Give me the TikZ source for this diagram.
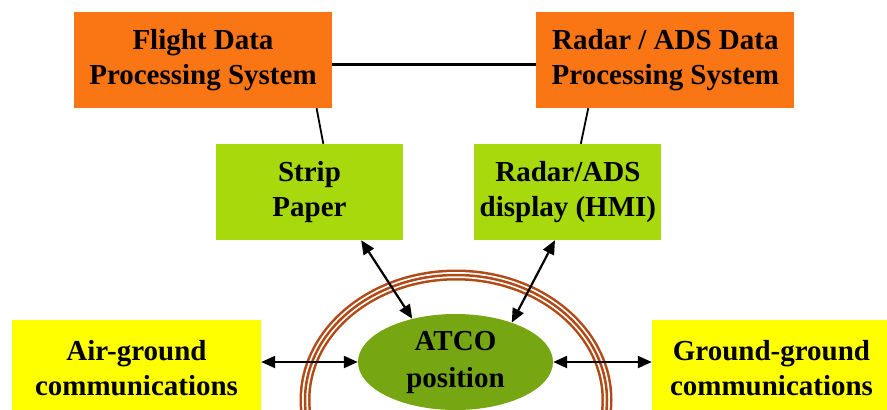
\documentclass[tikz,border=0pt]{standalone}
\usepackage{fontspec}
\setmainfont{Liberation Serif}
\usepackage{xcolor}
\usepackage{tikz}
\usetikzlibrary{positioning,shapes.geometric,arrows.meta}

\definecolor{sysorange}{RGB}{250,118,20}
\definecolor{dispgreen}{RGB}{168,217,13}
\definecolor{atcogreen}{RGB}{118,167,19}
\definecolor{commyellow}{RGB}{255,255,0}
\definecolor{ringbrown}{RGB}{178,74,22}

\tikzset{
  box/.style={rectangle, inner sep=0pt, align=center, text=black,
    font=\fontsize{29}{35}\selectfont\bfseries},
  sysbox/.style={box, fill=sysorange, minimum width=258pt, minimum height=96pt},
  dispbox/.style={box, fill=dispgreen, minimum width=187pt, minimum height=96pt},
  commbox/.style={box, fill=commyellow, minimum height=96pt},
  atcoell/.style={ellipse, fill=atcogreen, inner sep=0pt, align=center, text=black,
    minimum width=195pt, minimum height=96pt,
    font=\fontsize{29}{37}\selectfont\bfseries},
  sysline/.style={black, line width=1.8pt},
  link/.style={black, line width=2.2pt, <->, >={Triangle[length=14pt,width=12pt]}}
}

\begin{document}
\begin{tikzpicture}[x=1pt,y=-1pt]
\useasboundingbox (0,0) rectangle (887,410);

% rings round the controller
\foreach \w/\c in {11/ringbrown,6/white,2.5/ringbrown} {
\draw[\c, line width=\w pt] (456,400) ellipse [x radius=151, y radius=125];
}

\node(fdps)  [sysbox] at (203,60)                 {Flight Data\\Processing System};
\node(rdps)  [sysbox, right=204pt of fdps]        {Radar / ADS Data\\Processing System};
\node(strip) [dispbox] at (309.5,192)             {Strip\\Paper};
\node(hmi)   [dispbox, right=71pt of strip]       {Radar/ADS\\display (HMI)};
\node(atco)  [atcoell] at (455.5,362)             {ATCO\\position};
\node(airg)  [commbox, minimum width=249pt] at (136.5,368) {Air-ground\\communications};
\node(grg)   [commbox, minimum width=239pt] at (771.5,368) {Ground-ground\\communications};

\draw[sysline, line width=3pt] ([yshift=-4pt]fdps.east) -- ([yshift=-4pt]rdps.west);
\draw[sysline] (fdps.-23) -- (strip.74);
\draw[sysline] (rdps.-148) -- (hmi.75);

\draw[link] (strip.-43) -- (atco.135);
\draw[link] (hmi.-105) -- (atco.35);
\draw[link] (airg.east |- atco.west) -- (atco.west);
\draw[link] (atco.east) -- (grg.west |- atco.east);
\end{tikzpicture}
\end{document}
